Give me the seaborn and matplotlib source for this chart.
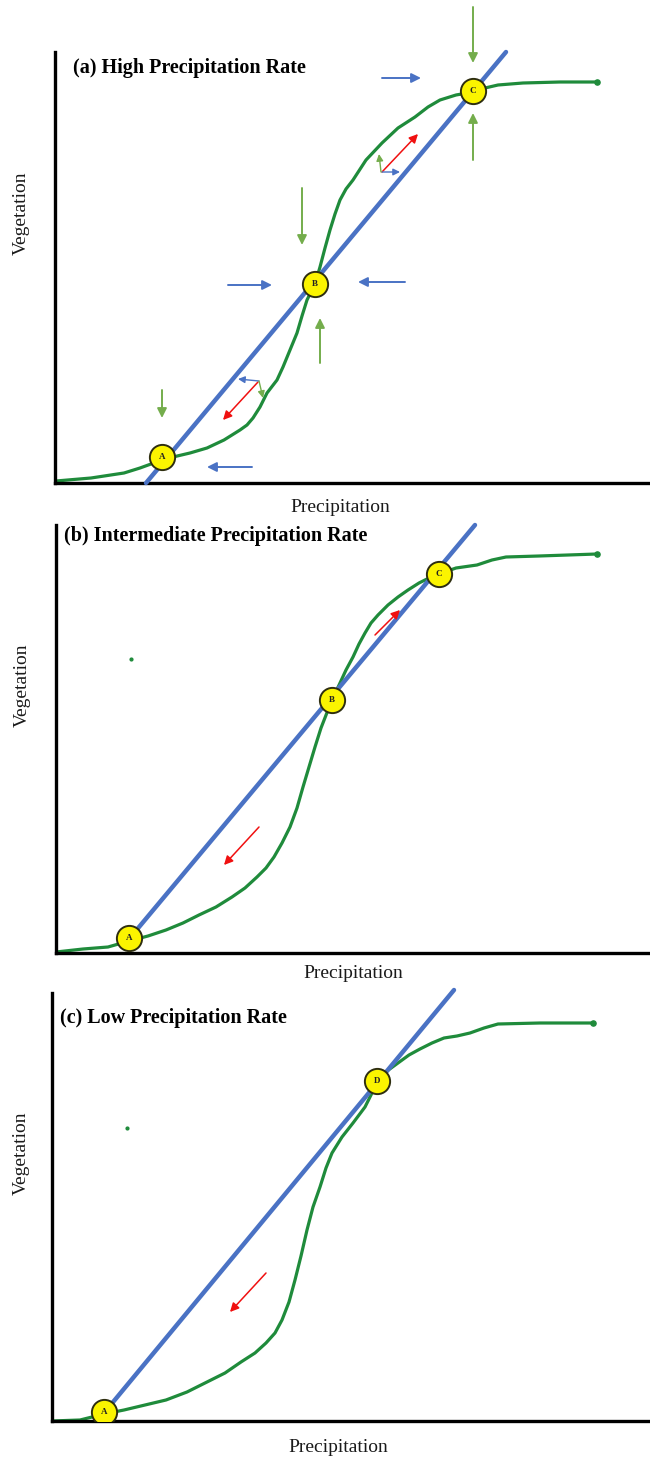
import matplotlib
matplotlib.use("Agg")
import matplotlib.pyplot as plt
import seaborn as sns
import pandas as pd

sns.set_theme(style="white")
plt.rcParams["font.family"] = ["Liberation Serif", "DejaVu Serif"]

# ---------------- data (arbitrary units) ----------------
# Panel (a) High precipitation rate
a_veg_x = [1, 36, 69, 85, 96, 107, 118, 135, 152, 169, 185, 192, 198, 205, 212,
           222, 228, 235, 242, 247, 252, 260, 265, 270, 275, 280, 285, 291, 298,
           311, 327, 343, 360, 373, 385, 401, 418, 430, 443, 468, 505, 542]
a_veg_y = [2, 5, 10, 15, 19, 23, 26, 30, 35, 43, 53, 58, 65, 76, 90,
           103, 116, 133, 150, 167, 183, 199, 216, 235, 253, 269, 283, 294, 303,
           323, 340, 355, 366, 376, 383, 388, 391, 395, 398, 400, 401, 401]
a_line_x = [91, 451]
a_line_y = [0, 431]
a_eq_label = ["A", "B", "C"]
a_eq_x = [107, 260, 418]
a_eq_y = [26, 199, 392]

# Panel (b) Intermediate precipitation rate
b_veg_x = [0, 27, 52, 73, 92, 110, 127, 143, 160, 176, 189, 201, 210, 218, 226,
           234, 241, 247, 253, 259, 265, 272, 276, 284, 290, 297, 303, 309, 315,
           322, 332, 342, 352, 363, 373, 383, 400, 421, 436, 450, 483, 541]
b_veg_y = [1, 4, 6, 12, 17, 23, 30, 38, 46, 56, 65, 76, 85, 96, 110,
           126, 145, 166, 186, 206, 225, 243, 253, 270, 283, 296, 309, 320, 330,
           338, 348, 356, 363, 370, 375, 379, 385, 388, 393, 396, 397, 399]
b_line_x = [68, 419]
b_line_y = [8, 428]
b_eq_label = ["A", "B", "C"]
b_eq_x = [73, 276, 383]
b_eq_y = [15, 253, 379]

# Panel (c) Low precipitation rate
c_veg_x = [0, 28, 52, 72, 93, 114, 135, 155, 173, 189, 203, 214, 223, 230, 237,
           243, 249, 255, 261, 268, 274, 280, 290, 301, 313, 319, 325, 335, 346,
           357, 368, 380, 392, 405, 418, 432, 446, 488, 541]
c_veg_y = [0, 1, 7, 11, 16, 21, 29, 39, 48, 59, 68, 78, 88, 101, 119,
           141, 165, 191, 214, 234, 253, 268, 284, 298, 314, 326, 340, 350, 358,
           366, 372, 378, 383, 385, 388, 393, 397, 398, 398]
c_line_x = [52, 402]
c_line_y = [8, 431]
c_eq_label = ["A", "D"]
c_eq_x = [52, 325]
c_eq_y = [9, 340]

titles = ["(a) High Precipitation Rate",
          "(b) Intermediate Precipitation Rate",
          "(c) Low Precipitation Rate"]
x_label = "Precipitation"
y_label = "Vegetation"

GREEN = "#1f8b3b"
BLUE = "#4a72c4"
AGREEN = "#74ad4c"
RED = "#f01010"

W, H = 650, 1460
fig = plt.figure(figsize=(W / 100, H / 100), dpi=100)
fig.patch.set_facecolor("white")


def make_axes(left, bottom, width, top):
    ax = fig.add_axes([left / W, 1 - bottom / H, width / W, (bottom - top) / H])
    ax.set_xlim(0, width)
    ax.set_ylim(0, bottom - top)
    ax.set_facecolor("none")
    for s in ["top", "right"]:
        ax.spines[s].set_visible(False)
    for s in ["left", "bottom"]:
        ax.spines[s].set_color("black")
        ax.spines[s].set_linewidth(2.4)
    ax.set_xticks([])
    ax.set_yticks([])
    return ax


def arrow(ax, tail, head, color, lw=1.4, ms=14):
    ax.annotate("", xy=head, xytext=tail, annotation_clip=False,
                arrowprops=dict(arrowstyle="-|>", color=color, lw=lw,
                                mutation_scale=ms, shrinkA=0, shrinkB=0))


def draw_panel(ax, vx, vy, lx, ly, ex, ey, elab, title, title_xy,
               xlab_pos, ylab_pos):
    sns.lineplot(x=vx, y=vy, ax=ax, color=GREEN, lw=2.3, sort=False,
                 estimator=None, zorder=2, solid_joinstyle="round")
    ax.scatter([vx[-1]], [vy[-1]], s=14, color=GREEN, zorder=2)
    sns.lineplot(x=lx, y=ly, ax=ax, color=BLUE, lw=3.2, sort=False,
                 estimator=None, zorder=3, clip_on=False)
    df = pd.DataFrame({"x": ex, "y": ey, "lab": elab})
    sns.scatterplot(data=df, x="x", y="y", ax=ax, s=330, color="#fbf400",
                    edgecolor="#2e2e10", linewidth=1.4, zorder=5, legend=False)
    for x, y, t in zip(ex, ey, elab):
        ax.text(x, y, t, ha="center", va="center", fontsize=6.5,
                fontweight="bold", color="#222222", zorder=6)
    ax.text(title_xy[0], title_xy[1], title, ha="left", va="center",
            fontsize=14.5, fontweight="bold", color="black")
    ax.set_xlabel("")
    ax.set_ylabel("")
    ax.text(xlab_pos[0], xlab_pos[1], x_label, transform=ax.transAxes,
            ha="center", va="center", fontsize=14, color="#1a1a1a")
    ax.text(ylab_pos[0], ylab_pos[1], y_label, transform=ax.transAxes,
            ha="center", va="center", rotation=90, fontsize=14,
            color="#1a1a1a")


# Panel (a)
ax1 = make_axes(55, 483, 595, 52)
draw_panel(ax1, a_veg_x, a_veg_y, a_line_x, a_line_y, a_eq_x, a_eq_y,
           a_eq_label, titles[0], (18, 415), (0.479, -0.058), (-0.056, 0.626))
# stability arrows
arrow(ax1, (418, 476), (418, 420), AGREEN)
arrow(ax1, (418, 323), (418, 370), AGREEN)
arrow(ax1, (247, 295), (247, 238), AGREEN)
arrow(ax1, (265, 120), (265, 165), AGREEN)
arrow(ax1, (107, 93), (107, 65), AGREEN)
arrow(ax1, (327, 405), (366, 405), BLUE)
arrow(ax1, (173, 198), (217, 198), BLUE)
arrow(ax1, (350, 201), (303, 201), BLUE)
arrow(ax1, (197, 16), (152, 16), BLUE)
arrow(ax1, (203, 101), (168, 63), RED, lw=1.1, ms=13)
arrow(ax1, (327, 311), (363, 349), RED, lw=1.1, ms=13)
arrow(ax1, (327, 311), (345, 311), BLUE, lw=1.0, ms=10)
arrow(ax1, (326, 311), (324, 329), AGREEN, lw=1.0, ms=10)
arrow(ax1, (204, 102), (183, 104), BLUE, lw=1.0, ms=10)
arrow(ax1, (204, 102), (208, 85), AGREEN, lw=1.0, ms=10)

# Panel (b)
ax2 = make_axes(56, 953, 594, 525)
draw_panel(ax2, b_veg_x, b_veg_y, b_line_x, b_line_y, b_eq_x, b_eq_y,
           b_eq_label, titles[1], (8, 417), (0.5, -0.047), (-0.057, 0.626))
arrow(ax2, (203, 126), (168, 88), RED, lw=1.1, ms=13)
arrow(ax2, (319, 318), (344, 343), RED, lw=1.1, ms=13)
ax2.scatter([75], [294], s=4, color=GREEN)

# Panel (c)
ax3 = make_axes(52, 1421, 598, 993)
draw_panel(ax3, c_veg_x, c_veg_y, c_line_x, c_line_y, c_eq_x, c_eq_y,
           c_eq_label, titles[2], (8, 403), (0.478, -0.061), (-0.052, 0.626))
arrow(ax3, (214, 148), (178, 109), RED, lw=1.1, ms=13)
ax3.scatter([75], [293], s=4, color=GREEN)

fig.savefig("out.png", dpi=100, facecolor="white")
